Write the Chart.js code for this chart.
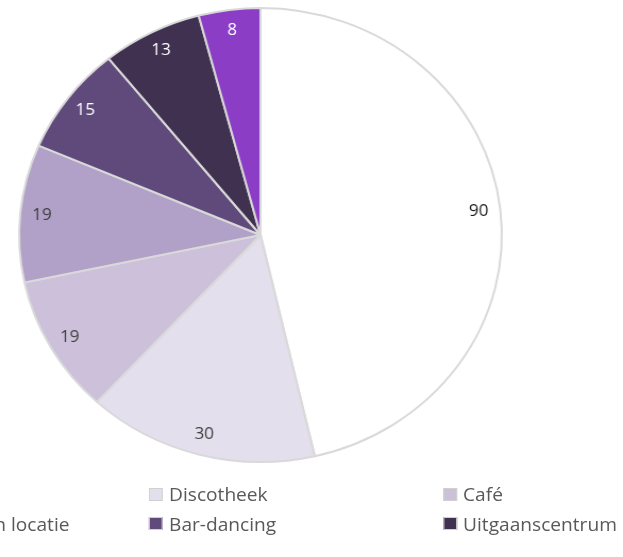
<!DOCTYPE html>
<html lang="nl">
<head>
<meta charset="utf-8">
<title>Locatie</title>
<script src="https://cdn.jsdelivr.net/npm/chart.js@4.4.0/dist/chart.umd.min.js"></script>
<style>
    html, body { margin: 0; padding: 0; background: #fff; overflow: hidden; }
    #wrap {
        position: absolute; left: 0; top: 0;
        width: 586px; height: 557px;
        transform: scaleX(1.0632); transform-origin: 0 0;
    }
    #locatieChart { position: absolute; left: 0; top: 0; }
    #legend .item {
        position: absolute; display: flex; align-items: center;
        height: 20px; line-height: 20px; white-space: nowrap;
        font: 18px "Open Sans", sans-serif; color: #595959;
    }
    #legend .box {
        width: 11px; height: 11px; flex: none;
        border: 1px solid #d0d0d0; margin-right: 6px;
    }
</style>
</head>
<body>
<div id="wrap">
    <canvas id="locatieChart" width="586" height="557"></canvas>
    <div id="legend"></div>
</div>
<script>
const labels = ['Thuis', 'Discotheek', 'Café', 'Evenementen locatie', 'Bar-dancing', 'Uitgaanscentrum', 'Overig'];
const values = [90, 30, 19, 19, 15, 13, 8];
const sliceColors = ['#ffffff', '#e4dfec', '#ccc0da', '#b1a0c7', '#604a7b', '#403151', '#8b3dc6'];
const labelColors = ['#1a1a1a', '#404040', '#404040', '#404040', '#ffffff', '#ffffff', '#ffffff'];

// waarden binnen de rand van elk segment
const valueLabels = {
    id: 'valueLabels',
    afterDatasetsDraw(chart) {
        const ctx = chart.ctx;
        const meta = chart.getDatasetMeta(0);
        ctx.save();
        ctx.font = '16px "Open Sans", sans-serif';
        ctx.textAlign = 'center';
        ctx.textBaseline = 'middle';
        meta.data.forEach((arc, i) => {
            const p = arc.getProps(['x', 'y', 'startAngle', 'endAngle', 'outerRadius']);
            const mid = (p.startAngle + p.endAngle) / 2;
            const r = p.outerRadius * 0.91;
            ctx.fillStyle = labelColors[i];
            ctx.fillText(String(values[i]), p.x + Math.cos(mid) * r, p.y + Math.sin(mid) * r);
        });
        ctx.restore();
    }
};

const ctx = document.getElementById('locatieChart').getContext('2d');
new Chart(ctx, {
    type: 'pie',
    data: {
        labels: labels,
        datasets: [{
            data: values,
            backgroundColor: sliceColors,
            borderColor: '#d9d9d9',
            borderWidth: 2
        }]
    },
    options: {
        responsive: false,
        animation: false,
        radius: 227,
        layout: { padding: { left: 0, right: 96, top: 0, bottom: 87 } },
        plugins: {
            legend: { display: false },
            tooltip: { enabled: false }
        }
    },
    plugins: [valueLabels]
});

// legenda in drie kolommen
const legend = document.getElementById('legend');
const colLeft = [-129, 140, 416.5];
const rowTop = [484, 513.5, 543];
labels.forEach((label, i) => {
    const item = document.createElement('div');
    item.className = 'item';
    item.style.left = colLeft[i % 3] + 'px';
    item.style.top = rowTop[Math.floor(i / 3)] + 'px';
    const box = document.createElement('span');
    box.className = 'box';
    box.style.background = sliceColors[i];
    const text = document.createElement('span');
    text.textContent = label;
    item.appendChild(box);
    item.appendChild(text);
    legend.appendChild(item);
});
</script>
</body>
</html>
